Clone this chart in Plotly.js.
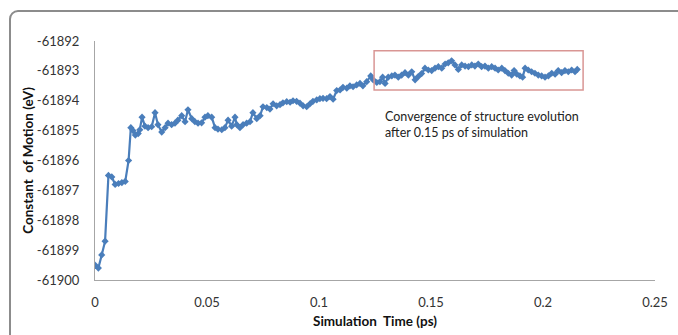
<!DOCTYPE html>
<html>
<head>
<meta charset="utf-8">
<script src="https://cdn.plot.ly/plotly-3.0.1.min.js"></script>
<style>
html,body{margin:0;padding:0;background:#fff;width:678px;height:335px;overflow:hidden;}
#frame{position:absolute;left:9px;top:10px;width:720px;height:400px;border:2px solid #8c8c8c;border-radius:9px;box-sizing:border-box;}
#chart{position:absolute;left:0;top:0;width:678px;height:335px;}
</style>
</head>
<body>
<div id="frame"></div>
<div id="chart"></div>
<script>
const timePs = [0,0.0015,0.003,0.0045,0.006,0.0075,0.009,0.0105,0.012,0.0135,0.015,0.016,0.017,0.018,0.0193,0.02,0.021,0.0223,0.0237,0.0253,0.0268,0.0281,0.0298,0.0313,0.0326,0.0342,0.0357,0.037,0.0387,0.0402,0.0415,0.0432,0.0446,0.046,0.0476,0.0491,0.0504,0.0521,0.0536,0.0549,0.0566,0.058,0.0594,0.061,0.0625,0.0633,0.0647,0.0661,0.0677,0.0692,0.0705,0.0722,0.0737,0.075,0.0767,0.0781,0.0795,0.0811,0.0826,0.0839,0.0856,0.0871,0.0884,0.09,0.0915,0.0929,0.0945,0.096,0.0973,0.099,0.1004,0.1018,0.1034,0.1049,0.1063,0.1079,0.1094,0.1107,0.1124,0.1138,0.1152,0.1168,0.1183,0.1196,0.1213,0.1231,0.1242,0.1258,0.1272,0.1284,0.1295,0.1309,0.1325,0.1339,0.1354,0.1369,0.1384,0.1399,0.1414,0.1429,0.1443,0.1458,0.1473,0.1488,0.1503,0.1518,0.1533,0.1548,0.1563,0.1577,0.1592,0.1607,0.1622,0.1637,0.1652,0.1667,0.1682,0.1696,0.1711,0.1726,0.1741,0.1756,0.1771,0.1786,0.18,0.1816,0.183,0.1845,0.186,0.1871,0.1883,0.1897,0.1909,0.192,0.1934,0.1949,0.1964,0.1979,0.1994,0.2009,0.2024,0.2039,0.2054,0.2068,0.2083,0.2098,0.2113,0.2128,0.2143,0.2153];
const motionEv = [-61899.5,-61899.6,-61899.16,-61898.7,-61896.5,-61896.55,-61896.8,-61896.77,-61896.74,-61896.7,-61896.0,-61894.9,-61895.0,-61895.15,-61895.1,-61894.97,-61894.55,-61894.85,-61894.9,-61894.87,-61894.4,-61894.8,-61895.05,-61894.9,-61894.75,-61894.8,-61894.75,-61894.65,-61894.5,-61894.7,-61894.3,-61894.6,-61894.7,-61894.75,-61894.74,-61894.55,-61894.5,-61894.55,-61894.9,-61894.95,-61894.97,-61894.9,-61894.65,-61894.85,-61894.55,-61894.8,-61894.9,-61894.8,-61894.75,-61894.7,-61894.4,-61894.6,-61894.5,-61894.2,-61894.23,-61894.28,-61894.1,-61894.17,-61894.13,-61894.07,-61894.03,-61894.05,-61894.0,-61894.02,-61894.08,-61894.17,-61894.2,-61894.1,-61894.02,-61893.97,-61893.93,-61893.92,-61893.93,-61893.86,-61893.95,-61893.66,-61893.64,-61893.55,-61893.58,-61893.5,-61893.53,-61893.47,-61893.42,-61893.5,-61893.36,-61893.17,-61893.3,-61893.39,-61893.36,-61893.21,-61893.42,-61893.21,-61893.17,-61893.14,-61893.21,-61893.14,-61893.06,-61893.14,-61893.03,-61893.3,-61893.19,-61893.09,-61892.91,-61892.97,-61892.99,-61892.91,-61892.86,-61892.91,-61892.77,-61892.73,-61892.66,-61892.8,-61892.95,-61892.8,-61892.84,-61892.86,-61892.8,-61892.84,-61892.77,-61892.86,-61892.84,-61892.91,-61892.86,-61892.91,-61892.97,-61892.91,-61892.99,-61893.08,-61893.14,-61892.99,-61893.11,-61893.17,-61893.21,-61892.91,-61892.97,-61893.03,-61893.08,-61893.14,-61893.17,-61893.21,-61893.17,-61893.08,-61893.11,-61892.99,-61893.06,-61892.99,-61893.03,-61892.97,-61893.03,-61892.95];

const xTickVals = [0,0.05,0.1,0.15,0.2,0.25];
const xTickText = ["0","0.05","0.1","0.15","0.2","0.25"];
const yTickVals = [-61900,-61899,-61898,-61897,-61896,-61895,-61894,-61893,-61892];
const yTickText = ["-61900","-61899","-61898","-61897","-61896","-61895","-61894","-61893","-61892"];

const boxX = [0.1246, 0.2179];
const boxY = [-61893.64, -61892.33];
const noteText = "Convergence of structure evolution<br>after 0.15 ps of simulation";
const noteX = 0.1286, noteY = -61894.79;

const trace = {
  x: timePs, y: motionEv, type: 'scatter', mode: 'lines+markers',
  line: {color: '#4A7EBB', width: 2.2},
  marker: {symbol: 'diamond', size: 5.5, color: '#4A7EBB'},
  hoverinfo: 'skip'
};

const layout = {
  width: 678, height: 335,
  paper_bgcolor: 'rgba(0,0,0,0)', plot_bgcolor: 'rgba(0,0,0,0)',
  margin: {l: 95, r: 23, t: 41, b: 55},
  showlegend: false,
  font: {family: 'Lato, "Open Sans", sans-serif', size: 13, color: '#333'},
  xaxis: {
    range: [0, 0.25], tickvals: xTickVals, ticktext: xTickText,
    showgrid: false, zeroline: false, showline: true, linecolor: '#a6a6a6', linewidth: 1,
    ticks: '', ticklabelstandoff: 10,
    tickfont: {family: 'Lato, sans-serif', size: 13, color: '#333'},
    title: {text: '<b>Simulation  Time (ps)</b>', font: {family: 'Lato, sans-serif', size: 13.5, color: '#111'}, standoff: 7}
  },
  yaxis: {
    range: [-61900, -61892], tickvals: yTickVals, ticktext: yTickText,
    showgrid: false, zeroline: false, showline: true, linecolor: '#a6a6a6', linewidth: 1,
    ticks: '', ticklabelstandoff: 12,
    tickfont: {family: 'Lato, sans-serif', size: 13, color: '#333'},
    title: {text: '<b>Constant  of Motion (eV)</b>', font: {family: 'Lato, sans-serif', size: 13.5, color: '#111'}, standoff: 0}
  },
  shapes: [{
    type: 'rect', xref: 'x', yref: 'y',
    x0: boxX[0], x1: boxX[1], y0: boxY[0], y1: boxY[1],
    line: {color: '#d99694', width: 1.5}, fillcolor: 'rgba(0,0,0,0)'
  }],
  annotations: [{
    x: noteX, y: noteY, xref: 'x', yref: 'y', xanchor: 'left', yanchor: 'middle',
    text: noteText, showarrow: false, align: 'left',
    font: {family: 'Lato, sans-serif', size: 12.5, color: '#222'}
  }]
};

Plotly.newPlot('chart', [trace], layout, {displayModeBar: false, staticPlot: true});
</script>
</body>
</html>
